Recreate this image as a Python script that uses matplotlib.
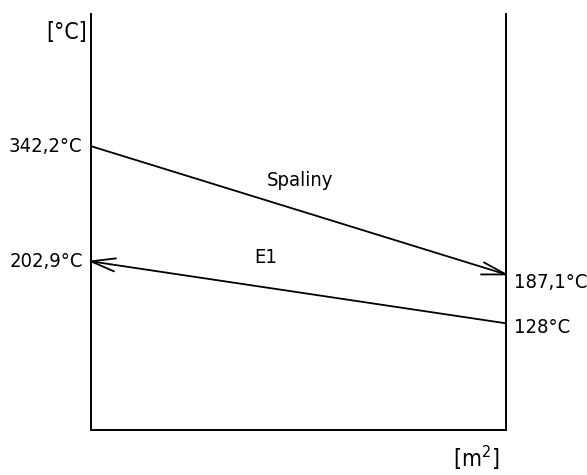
import matplotlib
matplotlib.use('Agg')
import matplotlib.pyplot as plt

# heat exchanger temperature profile (values in degC)
pos = [0.0, 1.0]
spaliny = [342.2, 187.1]
e1 = [202.9, 128.0]
labels_left = ['342,2°C', '202,9°C']
labels_right = ['187,1°C', '128°C']

plt.rcParams['font.family'] = ['DejaVu Sans']
plt.rcParams['font.stretch'] = 'condensed'

fig = plt.figure(figsize=(5.87, 4.75), dpi=100)
ax = fig.add_axes([91/587, 45/475, 415/587, 416/475])
ax.set_xlim(0, 1)
ax.set_ylim(-1, 502)
for s in ['left', 'right', 'bottom']:
    ax.spines[s].set_linewidth(1.4)
    ax.spines[s].set_color('black')
ax.spines['top'].set_visible(False)
ax.set_xticks([])
ax.set_yticks([])

lw = 1.3
ax.plot(pos, spaliny, color='black', lw=lw, solid_capstyle='butt')
ax.plot(pos, e1, color='black', lw=lw, solid_capstyle='butt')

def barbs(x, y, offs):
    # open arrow head drawn as two short strokes from the tip
    for dx, dy in offs:
        ax.annotate('', xy=(x, y), xytext=(dx * 0.72, dy * 0.72), textcoords='offset points',
                    arrowprops=dict(arrowstyle='-', lw=lw, color='black', shrinkA=0, shrinkB=0))

barbs(pos[1], spaliny[1], [(-22, 12), (-25, 0)])
barbs(pos[0], e1[0], [(25, 3), (23, -10)])

fs = 14.5
ax.text(-0.022, spaliny[0], labels_left[0], ha='right', va='center', fontsize=fs)
ax.text(-0.02, e1[0], labels_left[1], ha='right', va='center', fontsize=fs)
ax.annotate(labels_right[0], xy=(1, spaliny[1]), xytext=(6, -6), textcoords='offset points',
            ha='left', va='center', fontsize=fs)
ax.annotate(labels_right[1], xy=(1, e1[1]), xytext=(6, -3), textcoords='offset points',
            ha='left', va='center', fontsize=fs)

ax.text(0.504, 0.6, 'Spaliny', transform=ax.transAxes, ha='center', va='center', fontsize=fs)
ax.text(0.42, 0.415, 'E1', transform=ax.transAxes, ha='center', va='center', fontsize=fs)

fig.text(67/587, 1 - 32/475, '[°C]', ha='center', va='center', fontsize=fs + 2)
fig.text(476/587, 1 - 458/475, '[m$^2$]', ha='center', va='center', fontsize=fs + 2)

fig.savefig('out.png', dpi=100, facecolor='white')
